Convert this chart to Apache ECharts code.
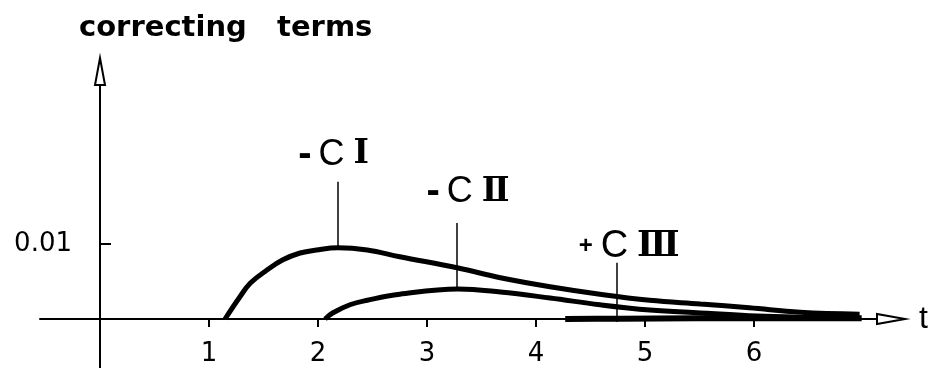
<!DOCTYPE html>
<html>
<head>
<meta charset="utf-8">
<script src="https://cdn.jsdelivr.net/npm/echarts@6/dist/echarts.min.js"></script>
<style>
  html, body { margin: 0; padding: 0; background: #fff; }
  #chart { width: 932px; height: 368px; }
</style>
</head>
<body>
<div id="chart"></div>
<script>
// Correcting terms versus t
const tickValues = [1, 2, 3, 4, 5, 6];
const yTickValues = [0.01];
const yTickLabels = ['0.01'];

// -C I
const c1T = [1.147, 1.281, 1.380, 1.529, 1.678, 1.836, 1.985, 2.184, 2.452, 2.750, 3.286, 3.673, 4.129, 4.586, 5.043, 5.509, 5.956, 6.423, 6.969];
const c1V = [0, 0.0029, 0.0048, 0.0065, 0.0079, 0.0088, 0.0092, 0.0095, 0.0092, 0.0083, 0.0068, 0.0055, 0.0043, 0.0033, 0.0025, 0.0020, 0.0015, 0.0009, 0.00065];

// -C II
const c2T = [2.065, 2.134, 2.293, 2.452, 2.750, 3.286, 3.673, 4.129, 4.586, 5.043, 5.509, 5.956, 6.423, 6.790];
const c2V = [0, 0.0008, 0.0019, 0.0025, 0.0033, 0.0040, 0.0036, 0.0028, 0.0019, 0.0012, 0.0008, 0.00045, 0.00025, 0.00012];

// +C III
const c3T = [4.268, 4.765, 5.460, 6.155, 6.988];
const c3V = [0, 0.00005, 0.0001, 0.0001, 0.0001];

// label leaders: [t, value on curve, value at top of leader]
const c1Lead = [2.184, 0.0096, 0.0183];
const c2Lead = [3.276, 0.0040, 0.0128];
const c3Lead = [4.745, -0.0004, 0.0075];

const pairs = (xs, ys) => xs.map((x, i) => [x, ys[i]]);

const sansNum = 'Liberation Sans, Arial, sans-serif';
const tickFont = 'DejaVu Sans, sans-serif';

const X_MIN = -0.5505, X_MAX = 7.2569;
const Y_MIN = -0.006533, Y_MAX = 0.0330;

const rich = {
  d: { fontFamily: sansNum, fontWeight: 'bold', fontSize: 40, color: '#000', padding: [0, 7, 0, 0] },
  c: { fontFamily: sansNum, fontSize: 36, color: '#000', padding: [0, 9, 0, 0] },
  r: { fontFamily: 'DejaVu Serif', fontWeight: 'bold', fontSize: 33, color: '#000' },
  p: { fontFamily: sansNum, fontWeight: 'bold', fontSize: 24, color: '#000', padding: [0, 8, 0, 0] },
  cl: { fontFamily: sansNum, fontSize: 38, color: '#000', padding: [0, 9, 0, 0] },
  rl: { fontFamily: 'DejaVu Serif', fontWeight: 'bold', fontSize: 35, color: '#000' }
};

function leader(lead, text, pad, dist) {
  return {
    silent: true,
    symbol: ['none', 'none'],
    lineStyle: { color: '#000', width: 1.5, type: 'solid' },
    label: {
      show: true,
      position: 'end',
      distance: dist,
      formatter: text,
      padding: pad,
      rich: rich
    },
    emphasis: { disabled: true },
    data: [[{ coord: [lead[0], lead[1]] }, { coord: [lead[0], lead[2]] }]]
  };
}

const chart = echarts.init(document.getElementById('chart'), null, { renderer: 'canvas' });

chart.setOption({
  animation: false,
  backgroundColor: '#fff',
  title: {
    text: 'correcting   terms',
    left: 74,
    top: 9,
    textStyle: { fontFamily: 'DejaVu Sans', fontWeight: 'bold', fontSize: 29, color: '#000' }
  },
  grid: [
    // drawing area with the axis lines crossing at the origin
    { left: 40, right: 41, top: 71.5, bottom: 0, outerBoundsMode: 'none' },
    // same scale, origin at the corner, carries the tick labels
    { left: 100, right: 41, top: 71.5, bottom: 49, outerBoundsMode: 'none' }
  ],
  xAxis: [
    {
      type: 'value',
      gridIndex: 0,
      min: X_MIN,
      max: X_MAX,
      name: 't',
      nameLocation: 'end',
      nameGap: 28,
      nameTextStyle: { fontFamily: sansNum, fontSize: 32, color: '#000', verticalAlign: 'middle' },
      axisLine: {
        onZero: true,
        symbol: ['none', 'emptyTriangle'],
        symbolSize: [10, 28],
        lineStyle: { color: '#000', width: 2 }
      },
      axisTick: { show: true, customValues: tickValues, length: 8, inside: false, lineStyle: { color: '#000', width: 2 } },
      axisLabel: { show: false },
      splitLine: { show: false }
    },
    {
      type: 'value',
      gridIndex: 1,
      min: 0,
      max: X_MAX,
      axisLine: { show: false },
      axisTick: { show: false },
      axisLabel: {
        customValues: tickValues,
        margin: 22,
        fontFamily: tickFont,
        fontSize: 26,
        color: '#000'
      },
      splitLine: { show: false }
    }
  ],
  yAxis: [
    {
      type: 'value',
      gridIndex: 0,
      min: Y_MIN,
      max: Y_MAX,
      axisLine: {
        onZero: true,
        symbol: ['none', 'emptyTriangle'],
        symbolSize: [10, 27],
        lineStyle: { color: '#000', width: 2 }
      },
      axisTick: { show: true, customValues: yTickValues, length: 11, inside: true, lineStyle: { color: '#000', width: 2 } },
      axisLabel: { show: false },
      splitLine: { show: false }
    },
    {
      type: 'value',
      gridIndex: 1,
      min: 0,
      max: Y_MAX,
      axisLine: { show: false },
      axisTick: { show: false },
      axisLabel: {
        customValues: yTickValues,
        formatter: (v) => yTickLabels[yTickValues.indexOf(v)] ?? '',
        margin: 28,
        fontFamily: tickFont,
        fontSize: 26,
        color: '#000'
      },
      splitLine: { show: false }
    }
  ],
  series: [
    {
      name: '-C I',
      type: 'line',
      xAxisIndex: 0,
      yAxisIndex: 0,
      data: pairs(c1T, c1V),
      smooth: 0.4,
      showSymbol: false,
      lineStyle: { color: '#000', width: 5 },
      z: 3,
      markLine: leader(c1Lead, '{d|-}{c|C}{r|Ⅰ}', [0, 9, 0, 0], 7)
    },
    {
      name: '-C II',
      type: 'line',
      xAxisIndex: 0,
      yAxisIndex: 0,
      data: pairs(c2T, c2V),
      smooth: 0.4,
      showSymbol: false,
      lineStyle: { color: '#000', width: 5 },
      z: 3,
      markLine: leader(c2Lead, '{d|-}{c|C}{r|Ⅱ}', [0, 0, 0, 22], 11)
    },
    {
      name: '+C III',
      type: 'line',
      xAxisIndex: 0,
      yAxisIndex: 0,
      data: pairs(c3T, c3V),
      smooth: 0.3,
      showSymbol: false,
      lineStyle: { color: '#000', width: 6 },
      z: 3,
      markLine: leader(c3Lead, '{p|+}{cl|C}{rl|Ⅲ}', [0, 0, 0, 24], -3)
    }
  ]
});
</script>
</body>
</html>
